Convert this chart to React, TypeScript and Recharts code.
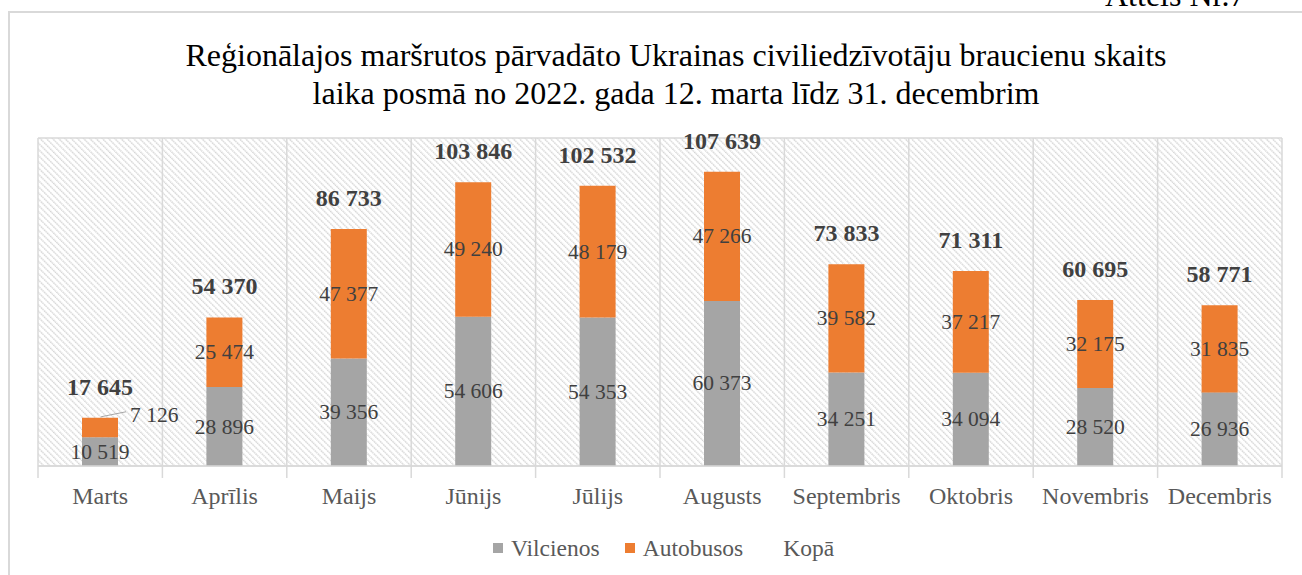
import { Bar, BarChart, CartesianGrid, LabelList, XAxis, YAxis } from 'recharts';

const months = ['Marts', 'Aprīlis', 'Maijs', 'Jūnijs', 'Jūlijs', 'Augusts', 'Septembris', 'Oktobris', 'Novembris', 'Decembris'];
const vilcienos = [10519, 28896, 39356, 54606, 54353, 60373, 34251, 34094, 28520, 26936];
const autobusos = [7126, 25474, 47377, 49240, 48179, 47266, 39582, 37217, 32175, 31835];
const kopa = [17645, 54370, 86733, 103846, 102532, 107639, 73833, 71311, 60695, 58771];
const yTicks = [0, 20000, 40000, 60000, 80000, 100000, 120000];

const data = months.map((month, i) => ({
  month,
  vilcienos: vilcienos[i],
  autobusos: autobusos[i],
  kopa: kopa[i]
}));

const SERIF = '"Liberation Serif", "Times New Roman", serif';
const GRAY = '#a5a5a5';
const ORANGE = '#ed7d31';
const GRID = '#d9d9d9';
const W = 1302;
const H = 575;
const M = { top: 138, right: 20, bottom: 79, left: 38 };
const STEP = (W - M.left - M.right) / months.length;

const fmt = (v: number) => String(v).replace(/\B(?=(\d{3})+(?!\d))/g, ' ');

function MonthTick(props: any) {
  const { x, y, payload, index } = props;
  const left = x - STEP / 2;
  return (
    <g>
      <line x1={left} x2={left} y1={y} y2={y + 12} stroke={GRID} strokeWidth={1.5} />
      {index === months.length - 1 && <line x1={x + STEP / 2} x2={x + STEP / 2} y1={y} y2={y + 12} stroke={GRID} strokeWidth={1.5} />}
      <text x={x} y={y + 30} textAnchor="middle" dominantBaseline="central" fill="#595959" fontSize={24} fontFamily={SERIF}>
        {payload.value}
      </text>
    </g>
  );
}

function GrayLabel(props: any) {
  const { x, y, width, height, value } = props;
  return (
    <text x={x + width / 2} y={y + height / 2} textAnchor="middle" dominantBaseline="central" fill="#404040" fontSize={21.5} fontFamily={SERIF}>
      {fmt(value)}
    </text>
  );
}

function OrangeLabel(props: any) {
  const { x, y, width, height, value } = props;
  if (height < 30) {
    // too small to hold the number: put it outside with a leader line
    return (
      <g>
        <path d={`M${x + width * 0.53},${y - 1} L${x + width + 8},${y - 6}`} stroke="#a6a6a6" fill="none" />
        <text x={x + width + 12} y={y - 3} dominantBaseline="central" fill="#404040" fontSize={21.5} fontFamily={SERIF}>
          {fmt(value)}
        </text>
      </g>
    );
  }
  return (
    <text x={x + width / 2} y={y + height / 2} textAnchor="middle" dominantBaseline="central" fill="#404040" fontSize={21.5} fontFamily={SERIF}>
      {fmt(value)}
    </text>
  );
}

function TotalLabel(props: any) {
  const { x, y, width, value } = props;
  return (
    <text x={x + width / 2} y={y - 31} textAnchor="middle" dominantBaseline="central" fill="#404040" fontSize={24} fontWeight="bold" fontFamily={SERIF}>
      {fmt(value)}
    </text>
  );
}

export default function App() {
  return (
    <div style={{ position: 'absolute', left: 0, top: 0, width: W, height: H, overflow: 'hidden', background: '#fff', fontFamily: SERIF }}>
      <div style={{ position: 'absolute', left: 1105, top: -21, fontSize: 32, lineHeight: 1, color: '#000', whiteSpace: 'nowrap' }}>Attēls Nr.7</div>
      <div style={{ position: 'absolute', left: 8, top: 11, width: W + 20, height: H + 20, border: `2px solid ${GRID}`, boxSizing: 'border-box' }} />
      <div style={{ position: 'absolute', left: 0, width: 1352, top: 36, textAlign: 'center', fontSize: 32, lineHeight: '38px', color: '#000', whiteSpace: 'nowrap' }}>
        <div>Reģionālajos maršrutos pārvadāto Ukrainas civiliedzīvotāju braucienu skaits</div>
        <div>laika posmā no 2022. gada 12. marta līdz 31. decembrim</div>
      </div>
      <div style={{ position: 'absolute', left: 0, top: 0 }}>
        <BarChart width={W} height={H} data={data} margin={M} barSize={36}>
          <defs>
            <pattern id="hatch" patternUnits="userSpaceOnUse" width="4.4" height="4.4" patternTransform="rotate(-45)">
              <rect width="4.4" height="4.4" fill="#ffffff" />
              <line x1="0.7" y1="0" x2="0.7" y2="4.4" stroke="#d4d4d4" strokeWidth="1.4" strokeDasharray="1.6 0.6" />
            </pattern>
          </defs>
          <CartesianGrid
            fill="url(#hatch)"
            stroke={GRID}
            strokeWidth={1.5}
            verticalCoordinatesGenerator={({ offset }: any) =>
              Array.from({ length: months.length + 1 }, (_, i) => offset.left + (i * offset.width) / months.length)
            }
          />
          <XAxis
            dataKey="month"
            height={30}
            tickSize={0}
            tickMargin={0}
            tickLine={false}
            axisLine={{ stroke: GRID, strokeWidth: 1.5 }}
            tick={<MonthTick />}
            interval={0}
          />
          <YAxis width={0} domain={[0, 120000]} ticks={yTicks} tick={false} axisLine={false} tickLine={false} />
          <Bar dataKey="vilcienos" stackId="a" fill={GRAY} isAnimationActive={false}>
            <LabelList dataKey="vilcienos" content={<GrayLabel />} />
          </Bar>
          <Bar dataKey="autobusos" stackId="a" fill={ORANGE} isAnimationActive={false}>
            <LabelList dataKey="autobusos" content={<OrangeLabel />} />
            <LabelList dataKey="kopa" content={<TotalLabel />} />
          </Bar>
        </BarChart>
      </div>
      <div style={{ position: 'absolute', top: 534, left: 493, display: 'flex', alignItems: 'center', fontSize: 23.5, color: '#595959', lineHeight: '28px', whiteSpace: 'nowrap' }}>
        <span style={{ width: 10, height: 10, background: GRAY, display: 'inline-block', marginRight: 8 }} />
        <span style={{ marginRight: 25 }}>Vilcienos</span>
        <span style={{ width: 10, height: 10, background: ORANGE, display: 'inline-block', marginRight: 8 }} />
        <span style={{ marginRight: 40 }}>Autobusos</span>
        <span>Kopā</span>
      </div>
    </div>
  );
}
